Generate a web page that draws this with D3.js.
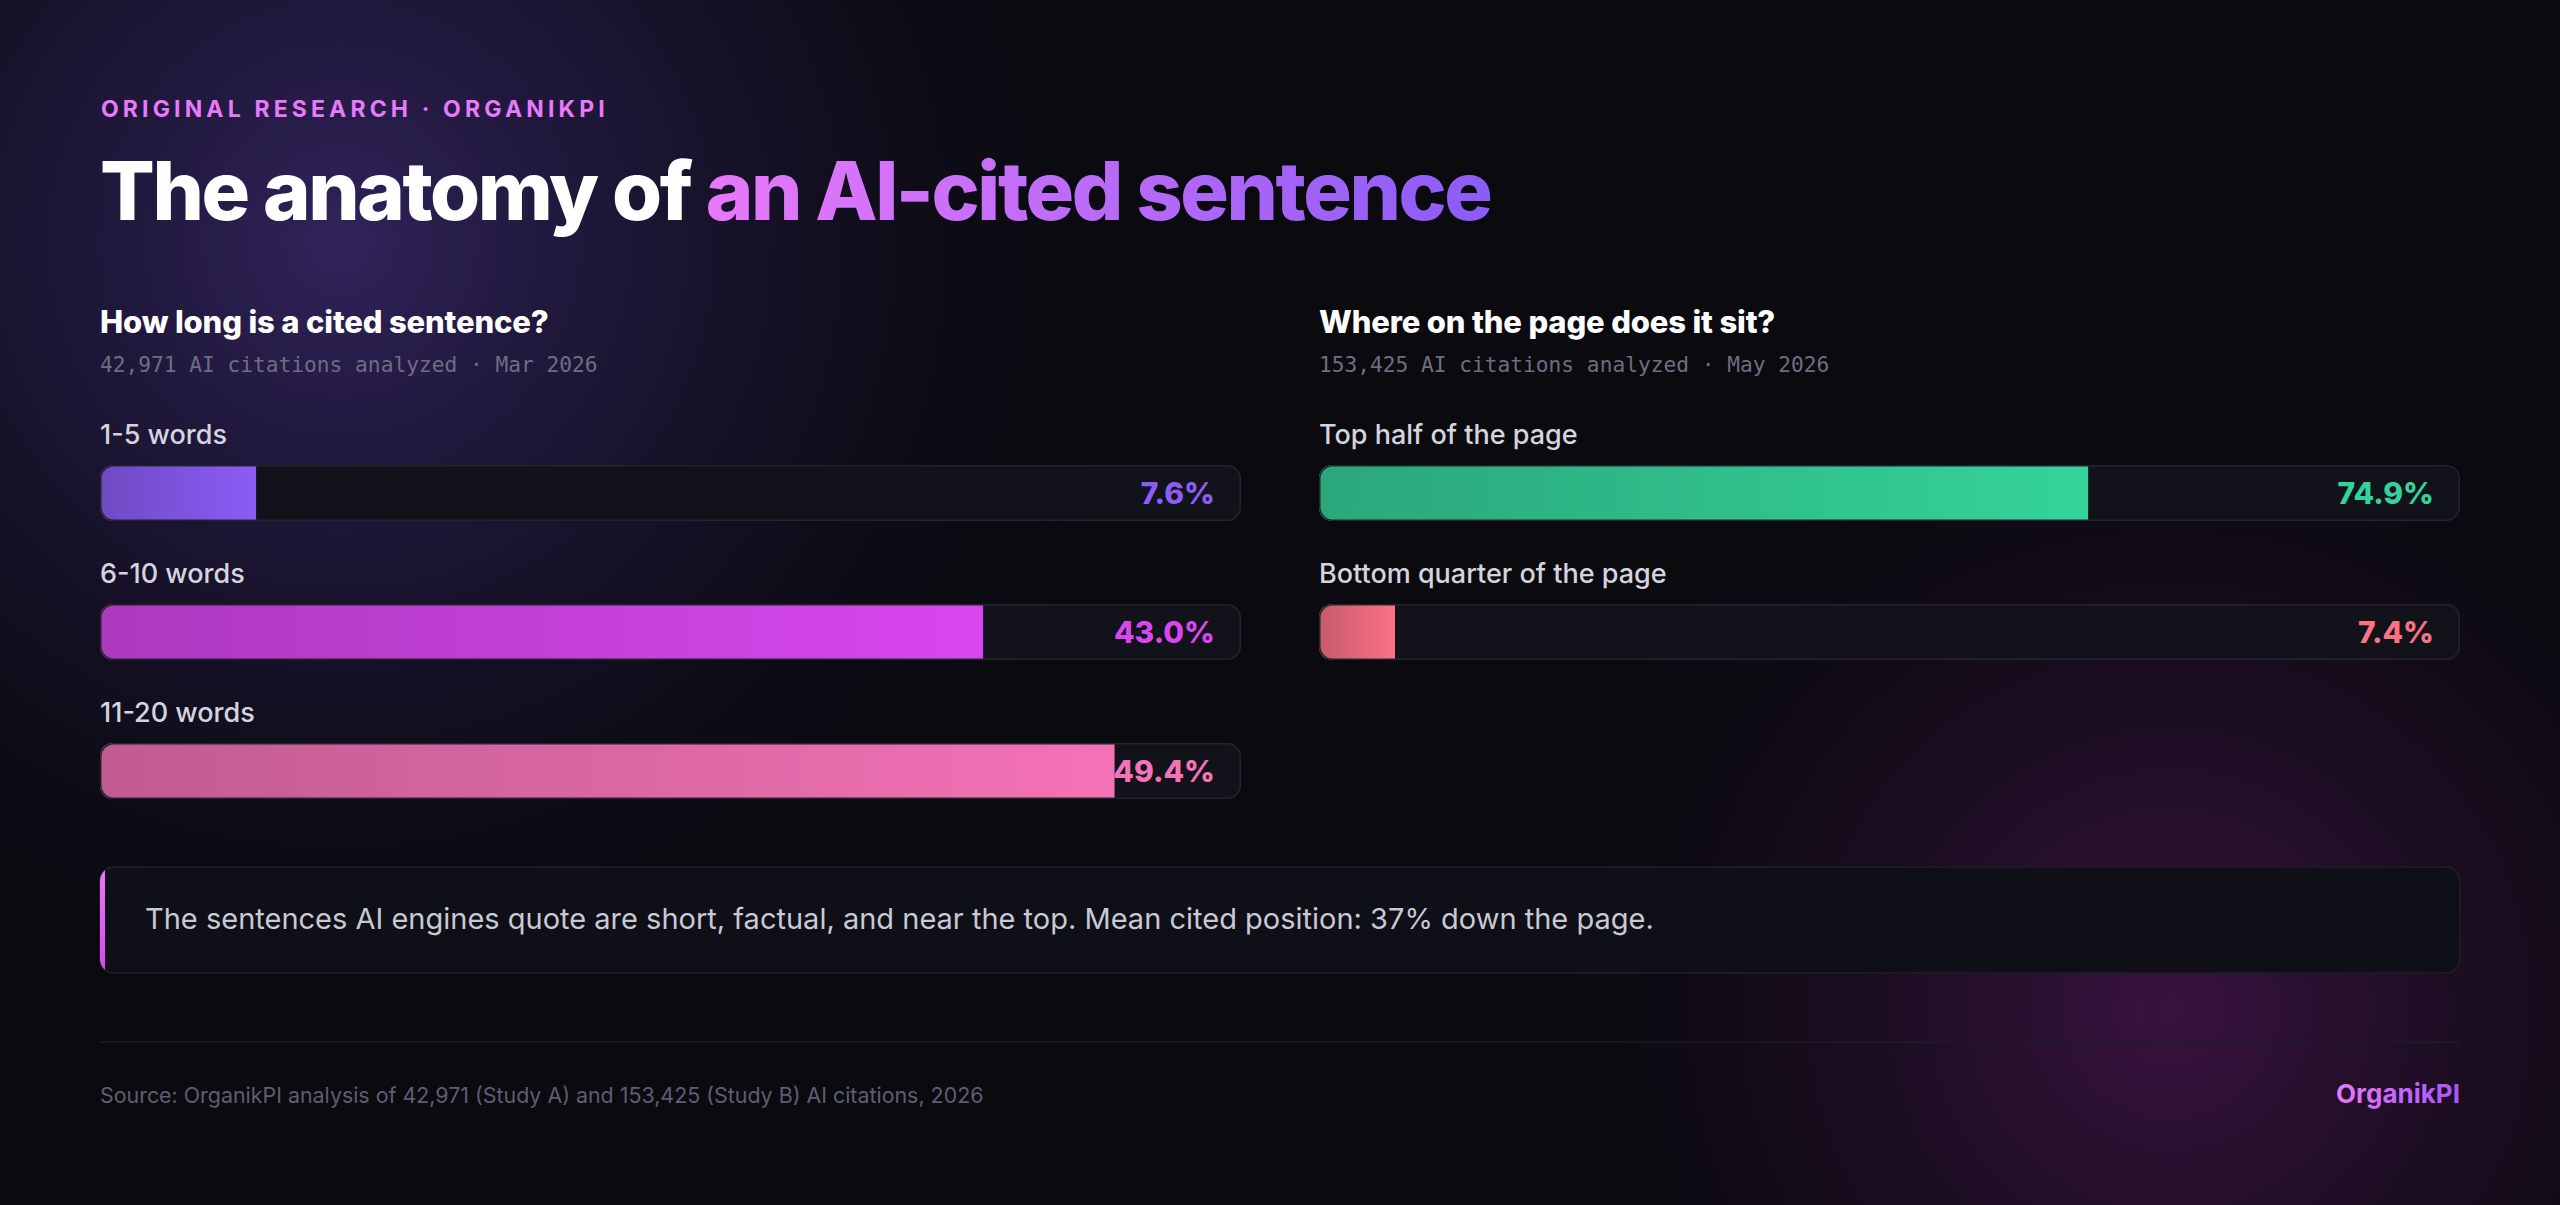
<!DOCTYPE html>
<html>
<head>
<meta charset="utf-8">
<script src="https://cdn.jsdelivr.net/npm/d3@7"></script>
<style>
  html, body { margin: 0; padding: 0; background: #0a0a0f; }
  svg { display: block; }
</style>
</head>
<body>
<div id="chart"></div>
<script>
// data
var lengthCats    = ['1-5 words', '6-10 words', '11-20 words'];
var lengthValues  = [7.6, 43.0, 49.4];
var lengthColors  = ['#8b5cf6', '#d946ef', '#f472b6'];
var lengthMax     = 50;

var posCats       = ['Top half of the page', 'Bottom quarter of the page'];
var posValues     = [74.9, 7.4];
var posColors     = ['#34d399', '#fb7185'];
var posMax        = 100;

var width   = 2560;
var height  = 1205;
var margin  = 100;
var gap     = 78;
var colW    = (width - 2 * margin - gap) / 2;
var trackH  = 56;
var rowStep = 139;
var firstTrack = 465;

var svg = d3.select('#chart')
    .append('svg')
    .attr('width', width)
    .attr('height', height);

var defs = svg.append('defs');

// background glows
var g1 = defs.append('radialGradient').attr('id', 'glow1')
    .attr('gradientUnits', 'userSpaceOnUse')
    .attr('cx', 340).attr('cy', 240).attr('r', 850);
g1.append('stop').attr('offset', 0).attr('stop-color', '#3a2a6e').attr('stop-opacity', 0.8);
g1.append('stop').attr('offset', 0.5).attr('stop-color', '#2a1d52').attr('stop-opacity', 0.35);
g1.append('stop').attr('offset', 1).attr('stop-color', '#0a0a0f').attr('stop-opacity', 0);

var g2 = defs.append('radialGradient').attr('id', 'glow2')
    .attr('gradientUnits', 'userSpaceOnUse')
    .attr('cx', 2170).attr('cy', 1010).attr('r', 700);
g2.append('stop').attr('offset', 0).attr('stop-color', '#4a1650').attr('stop-opacity', 0.75);
g2.append('stop').attr('offset', 0.5).attr('stop-color', '#2e1035').attr('stop-opacity', 0.4);
g2.append('stop').attr('offset', 1).attr('stop-color', '#0a0a0f').attr('stop-opacity', 0);

svg.append('rect').attr('width', width).attr('height', height).attr('fill', '#0a0a0f');
svg.append('rect').attr('width', width).attr('height', height).attr('fill', 'url(#glow1)');
svg.append('rect').attr('width', width).attr('height', height).attr('fill', 'url(#glow2)');

// text gradients
var tg = defs.append('linearGradient').attr('id', 'titleGrad')
    .attr('gradientUnits', 'userSpaceOnUse');
tg.append('stop').attr('offset', 0).attr('stop-color', '#e879f9');
tg.append('stop').attr('offset', 1).attr('stop-color', '#8b5cf6');

var bg = defs.append('linearGradient').attr('id', 'brandGrad');
bg.append('stop').attr('offset', 0).attr('stop-color', '#e879f9');
bg.append('stop').attr('offset', 1).attr('stop-color', '#a855f7');

var cg = defs.append('linearGradient').attr('id', 'calloutGrad')
    .attr('x1', 0).attr('y1', 0).attr('x2', 0).attr('y2', 1);
cg.append('stop').attr('offset', 0).attr('stop-color', '#e879f9');
cg.append('stop').attr('offset', 1).attr('stop-color', '#d946ef');

var sans = 'Inter, "Noto Sans", sans-serif';
var mono = '"DejaVu Sans Mono", "Liberation Mono", monospace';

// eyebrow + title
svg.append('text')
    .attr('x', margin + 1).attr('y', 117)
    .attr('font-family', sans).attr('font-size', 23).attr('font-weight', 700)
    .attr('letter-spacing', '0.18em')
    .attr('fill', '#e879f9')
    .text('ORIGINAL RESEARCH · ORGANIKPI');

var title = svg.append('text')
    .attr('x', margin).attr('y', 220)
    .attr('font-family', sans).attr('font-size', 81).attr('font-weight', 800)
    .attr('letter-spacing', '-0.03em')
    .attr('fill', '#ffffff');
var t1 = title.append('tspan').text('The anatomy of ');
var t2 = title.append('tspan').attr('fill', 'url(#titleGrad)').text('an AI-cited sentence');

// gradient only across the coloured words
var gStart = margin + t1.node().getComputedTextLength();
tg.attr('x1', gStart).attr('x2', gStart + t2.node().getComputedTextLength())
  .attr('y1', 0).attr('y2', 0);

function panel(x0, heading, sub, cats, values, colors, vmax, id) {
    var g = svg.append('g').attr('transform', 'translate(' + x0 + ',0)');

    g.append('text')
        .attr('x', 0).attr('y', 333)
        .attr('font-family', sans).attr('font-size', 31).attr('font-weight', 800)
        .attr('letter-spacing', '-0.005em')
        .attr('fill', '#ffffff')
        .text(heading);

    g.append('text')
        .attr('x', 0).attr('y', 372)
        .attr('font-family', mono).attr('font-size', 21.2)
        .attr('fill', '#6e6e82')
        .text(sub);

    var y = d3.scaleBand()
        .domain(cats)
        .range([firstTrack, firstTrack + rowStep * cats.length]);

    // fill reaches 90% of the track at the domain max
    var x = d3.scaleLinear()
        .domain([0, vmax])
        .range([0, colW * 0.9]);

    var rows = g.selectAll('.row')
        .data(cats.map(function (c, i) { return { cat: c, value: values[i], color: colors[i], i: i }; }))
        .enter().append('g')
        .attr('class', 'row')
        .attr('transform', function (d) { return 'translate(0,' + y(d.cat) + ')'; });

    rows.append('text')
        .attr('x', 0).attr('y', -21)
        .attr('font-family', sans).attr('font-size', 27).attr('font-weight', 500)
        .attr('fill', '#d4d4de')
        .text(function (d) { return d.cat; });

    rows.each(function (d) {
        var clipId = id + '-clip-' + d.i;
        defs.append('clipPath').attr('id', clipId)
            .append('rect')
            .attr('x', 0).attr('y', 0)
            .attr('width', colW).attr('height', trackH)
            .attr('rx', 13).attr('ry', 13);

        var fg = defs.append('linearGradient').attr('id', id + '-fill-' + d.i);
        fg.append('stop').attr('offset', 0).attr('stop-color', d.color).attr('stop-opacity', 0.78);
        fg.append('stop').attr('offset', 1).attr('stop-color', d.color).attr('stop-opacity', 1);

        var row = d3.select(this);
        row.append('rect')
            .attr('x', 0).attr('y', 0)
            .attr('width', colW).attr('height', trackH)
            .attr('rx', 13).attr('ry', 13)
            .attr('fill', '#12121b');

        row.append('rect')
            .attr('clip-path', 'url(#' + clipId + ')')
            .attr('x', 0).attr('y', 0)
            .attr('width', x(d.value)).attr('height', trackH)
            .attr('fill', '#0a0a0f');
        row.append('rect')
            .attr('clip-path', 'url(#' + clipId + ')')
            .attr('x', 0).attr('y', 0)
            .attr('width', x(d.value)).attr('height', trackH)
            .attr('fill', 'url(#' + id + '-fill-' + d.i + ')');

        row.append('rect')
            .attr('x', 0.75).attr('y', 0.75)
            .attr('width', colW - 1.5).attr('height', trackH - 1.5)
            .attr('rx', 13).attr('ry', 13)
            .attr('fill', 'none')
            .attr('stroke', '#23232f').attr('stroke-width', 1.5);

        row.append('text')
            .attr('x', colW - 26).attr('y', trackH / 2 + 11)
            .attr('text-anchor', 'end')
            .attr('font-family', sans).attr('font-size', 30).attr('font-weight', 800)
            .attr('fill', d.color)
            .text(d.value.toFixed(1) + '%');
    });
}

panel(margin, 'How long is a cited sentence?', '42,971 AI citations analyzed · Mar 2026',
      lengthCats, lengthValues, lengthColors, lengthMax, 'len');
panel(margin + colW + gap, 'Where on the page does it sit?', '153,425 AI citations analyzed · May 2026',
      posCats, posValues, posColors, posMax, 'pos');

// callout
var cx0 = margin, cy0 = 867, cw = width - 2 * margin, ch = 106;
defs.append('clipPath').attr('id', 'calloutClip')
    .append('rect').attr('x', cx0).attr('y', cy0).attr('width', cw).attr('height', ch)
    .attr('rx', 14).attr('ry', 14);
svg.append('rect')
    .attr('x', cx0).attr('y', cy0).attr('width', cw).attr('height', ch)
    .attr('rx', 14).attr('ry', 14)
    .attr('fill', '#0f0f17')
    .attr('stroke', '#1f1f2b').attr('stroke-width', 1.5);
svg.append('rect')
    .attr('clip-path', 'url(#calloutClip)')
    .attr('x', cx0).attr('y', cy0).attr('width', 5).attr('height', ch)
    .attr('fill', 'url(#calloutGrad)');
svg.append('text')
    .attr('x', 145).attr('y', 929)
    .attr('font-family', sans).attr('font-size', 29).attr('font-weight', 400)
    .attr('fill', '#c9c9d6')
    .text('The sentences AI engines quote are short, factual, and near the top. Mean cited position: 37% down the page.');

// footer
svg.append('line')
    .attr('x1', margin).attr('x2', width - margin)
    .attr('y1', 1042).attr('y2', 1042)
    .attr('stroke', '#1c1c26').attr('stroke-width', 1.5);

svg.append('text')
    .attr('x', margin).attr('y', 1103)
    .attr('font-family', sans).attr('font-size', 21.4)
    .attr('fill', '#5e5e72')
    .text('Source: OrganikPI analysis of 42,971 (Study A) and 153,425 (Study B) AI citations, 2026');

svg.append('text')
    .attr('x', width - margin).attr('y', 1103)
    .attr('text-anchor', 'end')
    .attr('font-family', sans).attr('font-size', 26).attr('font-weight', 700)
    .attr('fill', 'url(#brandGrad)')
    .text('OrganikPI');
</script>
</body>
</html>
